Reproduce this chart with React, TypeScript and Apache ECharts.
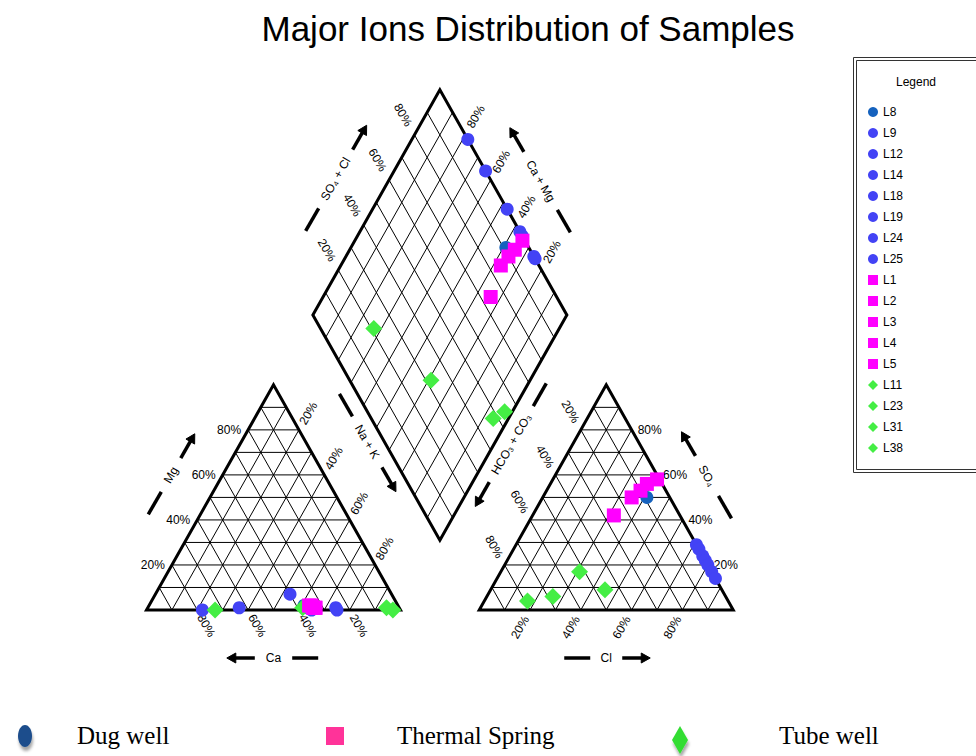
import React, { useEffect, useRef } from "react";
import * as echarts from "echarts";

// ---------------- data ----------------
const sampleNames = ["L8", "L9", "L12", "L14", "L18", "L19", "L24", "L25", "L1", "L2", "L3", "L4", "L5", "L11", "L23", "L31", "L38"];
const sampleGroups = [
  "Dug well", "Dug well", "Dug well", "Dug well", "Dug well", "Dug well", "Dug well", "Dug well",
  "Thermal Spring", "Thermal Spring", "Thermal Spring", "Thermal Spring", "Thermal Spring",
  "Tube well", "Tube well", "Tube well", "Tube well",
];
// cations (% meq): Na+K = 100 - Ca - Mg
const caPercent = [37, 78, 63, 40, 36, 25, 35, 25, 33, 34, 34, 35, 33, 73, 38, 5, 3];
const mgPercent = [2, 0, 1, 7, 1, 1, 0, 0, 1, 1, 2, 2, 1, 0, 1, 1, 0];
// anions (% meq): HCO3+CO3 = 100 - Cl - SO4
const clPercent = [41, 71, 73, 76, 78, 80, 83, 86, 41, 38, 37, 35, 32, 17, 26, 31, 45];
const so4Percent = [50, 29, 27, 24, 22, 20, 17, 14, 58, 56, 53, 50, 42, 4, 6, 17, 9];
const tickPercents = [20, 40, 60, 80];
const groupNames = ["Dug well", "Thermal Spring", "Tube well"];
const titleText = "Major Ions Distribution of Samples";

// ---------------- styles ----------------
const groupStyles: Record<string, { symbol: string; size: number; color: string }> = {
  "Dug well": { symbol: "circle", size: 13, color: "#4343f5" },
  "Thermal Spring": { symbol: "rect", size: 14, color: "#ff00ff" },
  "Tube well": { symbol: "diamond", size: 17, color: "#44ee44" },
};
const colorOverrides: Record<string, string> = { L8: "#1562be" };
const drawOrder = ["Dug well", "Tube well", "Thermal Spring"];
const SANS = "'Liberation Sans', Arial, Helvetica, sans-serif";
const SERIF = "'Liberation Serif', 'Times New Roman', serif";

// ---------------- geometry (units: triangle side = 100) ----------------
const GAP = 31;
const H = Math.sqrt(3) / 2;
const R0 = 100 + GAP;
const BOTTOM = [100 + GAP / 2, GAP * H];
const LEFTV = [BOTTOM[0] - 50, BOTTOM[1] + 100 * H];
const TOPV = [BOTTOM[0], BOTTOM[1] + 200 * H];
const RIGHTV = [BOTTOM[0] + 50, BOTTOM[1] + 100 * H];

// page layout of the unit system
const W = 976, HP = 756, OX = 146.5, OY = 610, SX = 2.54, SY = 2.6;

const cationPoint = (ca: number, mg: number) => {
  const nak = 100 - ca - mg;
  return [nak + mg / 2, mg * H];
};
const anionPoint = (cl: number, so4: number) => [R0 + cl + so4 / 2, so4 * H];
const diamondPoint = (ca: number, mg: number, cl: number, so4: number) => {
  const a = (100 - ca - mg) / 100;
  const b = (cl + so4) / 100;
  return [LEFTV[0] + 50 * a + 50 * b, LEFTV[1] + 100 * H * (b - a)];
};

const frameRender = (_params: any, api: any) => {
  const P = (u: number, v: number) => api.coord([u, v]) as number[];
  const ch: any[] = [];
  const line = (a: number[], b: number[], w: number, cap = "butt") =>
    ch.push({ type: "line", shape: { x1: a[0], y1: a[1], x2: b[0], y2: b[1] }, style: { stroke: "#000", lineWidth: w, lineCap: cap } });
  const poly = (pts: number[][], w: number) =>
    ch.push({ type: "polygon", shape: { points: pts }, style: { fill: "none", stroke: "#000", lineWidth: w, lineJoin: "miter" } });
  const tri = (pts: number[][]) => ch.push({ type: "polygon", shape: { points: pts }, style: { fill: "#000", stroke: "#000", lineWidth: 1 } });
  const txt = (p: number[], text: string, deg: number, align: string) =>
    ch.push({
      type: "text", x: p[0], y: p[1], rotation: (deg * Math.PI) / 180,
      style: { text, fill: "#000", fontSize: 12, fontFamily: SANS, align, textAlign: align, verticalAlign: "middle", textVerticalAlign: "middle" },
    });
  const off = (p: number[], d: number[], s: number) => [p[0] + d[0] * s, p[1] + d[1] * s];
  const arrow = (s: number[], e: number[]) => {
    const dx = e[0] - s[0], dy = e[1] - s[1];
    const L = Math.hypot(dx, dy), ux = dx / L, uy = dy / L;
    const base = [e[0] - ux * 9, e[1] - uy * 9];
    line(s, [base[0] + ux, base[1] + uy], 3.5);
    tri([e, [base[0] - uy * 5, base[1] + ux * 5], [base[0] + uy * 5, base[1] - ux * 5]]);
  };
  const axisTitle = (c: number[], deg: number, text: string, h: number, arrowAtEnd: boolean) => {
    const th = (deg * Math.PI) / 180;
    const e = [Math.cos(th), -Math.sin(th)];
    const at = (s: number) => [c[0] + e[0] * s, c[1] + e[1] * s];
    txt(c, text, deg, "center");
    const g = 11, dl = 26, al = 28;
    if (arrowAtEnd) {
      line(at(-(h + g + dl)), at(-(h + g)), 3.5);
      arrow(at(h + g), at(h + g + al));
    } else {
      arrow(at(-(h + g)), at(-(h + g + al)));
      line(at(h + g), at(h + g + dl), 3.5);
    }
  };

  // --- grid lines ---
  const thin = 1;
  for (let i = 1; i < 10; i++) {
    const t = i * 10;
    for (const x0 of [0, R0]) {
      line(P(x0 + t / 2, t * H), P(x0 + 100 - t / 2, t * H), thin);
      line(P(x0 + t, 0), P(x0 + t / 2, t * H), thin);
      line(P(x0 + t, 0), P(x0 + 50 + t / 2, (100 - t) * H), thin);
    }
    const f = i / 10;
    const a0 = [LEFTV[0] + 50 * f, LEFTV[1] - 100 * H * f];
    line(P(a0[0], a0[1]), P(a0[0] + 50, a0[1] + 100 * H), thin);
    const b0 = [LEFTV[0] + 50 * f, LEFTV[1] + 100 * H * f];
    line(P(b0[0], b0[1]), P(b0[0] + 50, b0[1] - 100 * H), thin);
  }
  // --- borders ---
  poly([P(0, 0), P(100, 0), P(50, 100 * H)], 3);
  poly([P(R0, 0), P(R0 + 100, 0), P(R0 + 50, 100 * H)], 3);
  poly([P(BOTTOM[0], BOTTOM[1]), P(RIGHTV[0], RIGHTV[1]), P(TOPV[0], TOPV[1]), P(LEFTV[0], LEFTV[1])], 3);

  // --- percent labels ---
  const up60 = [0.5, -0.866], dn60 = [0.5, 0.866], upL = [-0.5, -0.866], dnL = [-0.5, 0.866];
  for (const p of tickPercents) {
    const lbl = p + "%";
    // left triangle
    txt(off(P(p / 2, p * H), [1, 0], -7), lbl, 0, "right"); // Mg
    txt(off(P(50 + p / 2, (100 - p) * H), up60, 7), lbl, 60, "left"); // Na+K
    txt(off(P(100 - p, 0), dn60, 6), lbl, -60, "left"); // Ca
    // right triangle
    txt(off(P(R0 + p, 0), dnL, 8), lbl, 60, "right"); // Cl
    txt(off(P(R0 + 100 - p / 2, p * H), [1, 0], 6), lbl, 0, "left"); // SO4
    txt(off(P(R0 + 50 * (100 - p) / 100, (100 - p) * H), upL, 9), lbl, -60, "right"); // HCO3
    // diamond
    const b = p / 100;
    txt(off(P(LEFTV[0] + 50 * b, LEFTV[1] + 100 * H * b), upL, 11), lbl, -60, "right"); // SO4+Cl
    const a = 1 - p / 100;
    txt(off(P(TOPV[0] + 50 * a, TOPV[1] - 100 * H * a), up60, 9), lbl, 60, "left"); // Ca+Mg
  }

  // --- axis titles ---
  const nUL = [-0.866, -0.5], nUR = [0.866, -0.5], nDL = [-0.866, 0.5], nDR = [0.866, 0.5];
  axisTitle(off(P(25, 50 * H), nUL, 45), 60, "Mg", 8.5, true);
  axisTitle(off(P(50, 0), [0, 1], 48), 0, "Ca", 7.7, false);
  axisTitle(off(P(R0 + 50, 0), [0, 1], 48), 0, "Cl", 5, true);
  axisTitle(off(P(R0 + 75, 50 * H), nUR, 43), -60, "SO\u2084", 12, false);
  const fl = 0.47;
  axisTitle(off(P(BOTTOM[0] + (LEFTV[0] - BOTTOM[0]) * fl, BOTTOM[1] + (LEFTV[1] - BOTTOM[1]) * fl), nDL, 15), -60, "Na + K", 18.5, true);
  const fr = 0.46;
  axisTitle(off(P(BOTTOM[0] + (RIGHTV[0] - BOTTOM[0]) * fr, BOTTOM[1] + (RIGHTV[1] - BOTTOM[1]) * fr), nDR, 15), 60, "HCO\u2083 + CO\u2083", 33, false);
  axisTitle(off(P((LEFTV[0] + TOPV[0]) / 2, (LEFTV[1] + TOPV[1]) / 2), nUL, 47), 60, "SO\u2084 + Cl", 23, true);
  axisTitle(off(P((RIGHTV[0] + TOPV[0]) / 2, (RIGHTV[1] + TOPV[1]) / 2), nUR, 43), -60, "Ca + Mg", 22.5, false);

  return { type: "group", children: ch };
};

function buildOption() {
  const idx = sampleNames.map((_, i) => i);
  const ordered = drawOrder.flatMap((g) => idx.filter((i) => sampleGroups[i] === g));
  const scatter = ordered.map((i) => {
    const st = groupStyles[sampleGroups[i]];
    return {
      type: "scatter",
      name: sampleNames[i],
      symbol: st.symbol,
      symbolSize: st.size,
      itemStyle: { color: colorOverrides[sampleNames[i]] || st.color, opacity: 1 },
      z: 3,
      data: [
        cationPoint(caPercent[i], mgPercent[i]),
        diamondPoint(caPercent[i], mgPercent[i], clPercent[i], so4Percent[i]),
        anionPoint(clPercent[i], so4Percent[i]),
      ],
    };
  });

  const bottomY = 736;
  return {
    animation: false,
    backgroundColor: "#fff",
    grid: { left: 0, right: 0, top: 0, bottom: 0 },
    xAxis: { type: "value", min: -OX / SX, max: (W - OX) / SX, show: false },
    yAxis: { type: "value", min: -(HP - OY) / SY, max: OY / SY, show: false },
    legend: {
      orient: "vertical",
      left: 868,
      top: 106,
      itemWidth: 10,
      itemHeight: 10,
      itemGap: 9,
      padding: 0,
      selectedMode: false,
      data: sampleNames,
      textStyle: { fontSize: 12, fontFamily: SANS, color: "#000" },
    },
    graphic: [
      {
        type: "text", x: 528, y: 28,
        style: { text: titleText, fontSize: 35, fontFamily: SANS, fill: "#000", align: "center", textAlign: "center", verticalAlign: "middle", textVerticalAlign: "middle" },
      },
      { type: "rect", shape: { x: 853.5, y: 57.5, width: 140, height: 415 }, style: { fill: "none", stroke: "#333", lineWidth: 1 } },
      { type: "rect", shape: { x: 856.5, y: 60.5, width: 140, height: 409 }, style: { fill: "none", stroke: "#333", lineWidth: 1 } },
      { type: "text", x: 916, y: 82, style: { text: "Legend", fontSize: 12, fontFamily: SANS, fill: "#000", align: "center", textAlign: "center", verticalAlign: "middle", textVerticalAlign: "middle" } },
      // bottom legend
      {
        type: "ellipse", shape: { cx: 25, cy: bottomY, rx: 7, ry: 11 },
        style: { fill: "#1f4e8c", shadowBlur: 3, shadowOffsetX: 1, shadowOffsetY: 4, shadowColor: "rgba(0,0,0,0.35)" },
      },
      { type: "text", x: 77, y: bottomY - 1, style: { text: groupNames[0], fontSize: 25, fontFamily: SERIF, fill: "#000", verticalAlign: "middle", textVerticalAlign: "middle" } },
      { type: "rect", shape: { x: 326, y: 727, width: 18, height: 18 }, style: { fill: "#ff3399" } },
      { type: "text", x: 397, y: bottomY - 1, style: { text: groupNames[1], fontSize: 25, fontFamily: SERIF, fill: "#000", verticalAlign: "middle", textVerticalAlign: "middle" } },
      {
        type: "polygon", shape: { points: [[680, 726], [688, 740], [680, 754], [672, 740]] },
        style: { fill: "#33dd33", shadowBlur: 3, shadowOffsetX: 1, shadowOffsetY: 4, shadowColor: "rgba(0,0,0,0.35)" },
      },
      { type: "text", x: 779, y: bottomY - 1, style: { text: groupNames[2], fontSize: 25, fontFamily: SERIF, fill: "#000", verticalAlign: "middle", textVerticalAlign: "middle" } },
    ],
    series: [
      { type: "custom", name: "frame", silent: true, clip: false, z: 1, data: [[0, 0]], renderItem: frameRender },
      ...scatter,
    ],
  };
}

export default function App() {
  const ref = useRef<HTMLDivElement>(null);
  useEffect(() => {
    if (!ref.current) return;
    const chart = echarts.init(ref.current, null, { renderer: "svg" });
    chart.setOption(buildOption() as any);
    return () => chart.dispose();
  }, []);
  return <div ref={ref} style={{ position: "absolute", left: 0, top: 0, width: 976, height: 756, background: "#fff" }} />;
}
